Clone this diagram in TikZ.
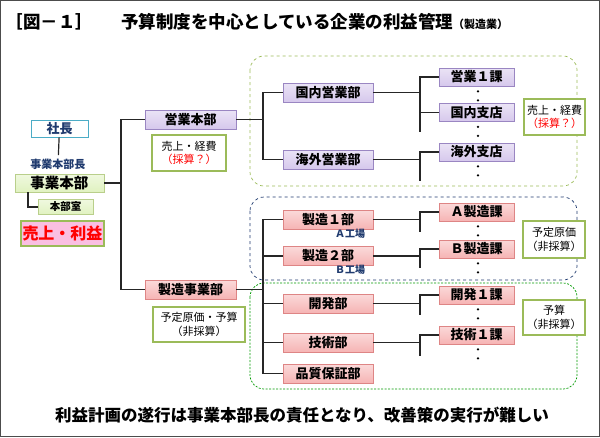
\documentclass[tikz,border=0pt]{standalone}
\usepackage{fontspec}
\setmainfont{Noto Sans CJK JP}
\usetikzlibrary{positioning}
\definecolor{pfill}{HTML}{D6C8EC}\definecolor{pdraw}{HTML}{9A86C2}
\definecolor{rfill}{HTML}{F6B4B4}\definecolor{rdraw}{HTML}{DE8585}
\definecolor{gfill}{HTML}{E0F2C0}\definecolor{gdraw}{HTML}{9BBB59}
\definecolor{cdraw}{HTML}{4BACC6}\definecolor{navy}{HTML}{1F3A6E}
\begin{document}
\begin{tikzpicture}[x=1pt,y=-1pt,
 box/.style={draw,line width=0.8pt,inner sep=0,minimum height=19pt,font=\bfseries\fontsize{13}{14}\selectfont},
 pb/.style={box,draw=pdraw,top color=pfill!50!white,bottom color=pfill},
 rb/.style={box,draw=rdraw,top color=rfill!50!white,bottom color=rfill},
 gb/.style={box,draw=gdraw!70,top color=gfill!50!white,bottom color=gfill},
 note/.style={draw=gdraw,line width=1.8pt,fill=white,inner sep=0,align=center,font=\fontsize{11}{13.5}\selectfont},
 ln/.style={line width=1.2pt,black!85},
 reg/.style={rounded corners=14pt,dashed,line width=0.7pt}]
\useasboundingbox (0,0) rectangle (600,437);
\draw[black!70,line width=0.8pt] (0.5,0.5) rectangle (599.5,436.5);
\node[anchor=west,font=\bfseries\fontsize{17.5}{19}\selectfont] (title) at (2,22) {［図－１］\hspace{1.6em}予算制度を中心としている企業の利益管理{\fontsize{11}{12}\selectfont（製造業）}};
% regions
\draw[reg,draw=gdraw] (250,56) rectangle (577,186);
\draw[reg,draw=navy] (250,197) rectangle (577,280);
\draw[reg,draw=green!60!black,dash pattern=on 2pt off 1.5pt] (250,283) rectangle (577,389);
% left
\node[box,draw=cdraw,fill=white,minimum width=57pt,minimum height=17pt,font=\bfseries\fontsize{13}{14}\selectfont,text=navy] (pres) at (59.5,128.5) {社長};
\node[font=\bfseries\fontsize{11}{12}\selectfont,text=navy] (hl) at (58,164) {事業本部長};
\node[gb,minimum width=89pt,minimum height=18pt,font=\bfseries\fontsize{14.5}{15}\selectfont] (hq) at (59.5,183) {事業本部};
\node[gb,minimum width=55pt,minimum height=15pt,font=\bfseries\fontsize{10.5}{11}\selectfont] (hr) at (65.5,207) {本部室};
\node[note,fill=magenta!25,minimum width=83pt,minimum height=25pt,font=\bfseries\fontsize{16}{17}\selectfont,text=red] (pr) at (62.5,233.5) {売上・利益};
\draw[ln] (pres) -- (hl);
\draw[ln] (hq.south -| 28,0) |- (hr.west);
% level 2
\node[pb,minimum width=91pt] (sales) at (190.5,119.5) {営業本部};
\node[rb,minimum width=91pt] (mfg) at (190.5,289.5) {製造事業部};
\node[note,minimum width=74pt,minimum height=36pt] (n1) at (189,153) {売上・経費\\\textcolor{red}{（採算？）}};
\node[note,minimum width=92pt,minimum height=35pt] (n2) at (199,324.5) {予定原価・予算\\（非採算）};
\coordinate (b1) at (121,183);
\draw[ln] (hq.east) -- (b1);
\draw[ln] (b1) |- (sales.west);
\draw[ln] (b1) |- (mfg.west);
% level 3
\node[pb,minimum width=90pt] (dom) at (328,92.5) {国内営業部};
\node[pb,minimum width=90pt] (ovs) at (328,159.5) {海外営業部};
\node[rb,minimum width=90pt] (m1) at (328,219.5) {製造１部};
\node[rb,minimum width=90pt] (m2) at (328,256) {製造２部};
\node[rb,minimum width=90pt] (dev) at (328,303.5) {開発部};
\node[rb,minimum width=90pt] (tec) at (328,342.5) {技術部};
\node[rb,minimum width=90pt] (qa) at (328,373.5) {品質保証部};
\node[font=\bfseries\fontsize{10}{10}\selectfont,text=navy] (fa) at (350,234) {Ａ工場};
\node[font=\bfseries\fontsize{10}{10}\selectfont,text=navy] (fb) at (350,270) {Ｂ工場};
\coordinate (s2) at (263,119.5);
\draw[ln] (sales.east) -- (s2);
\draw[ln] (dom.west) -| (s2) |- (ovs.west);
\coordinate (m2b) at (263,289.5);
\draw[ln] (mfg.east) -- (m2b);
\draw[ln] (m1.west) -| (m2b) |- (qa.west);
\draw[ln] (m2.west -| m2b) -- (m2.west);
\draw[ln] (dev.west -| m2b) -- (dev.west);
\draw[ln] (tec.west -| m2b) -- (tec.west);
% level 4
\node[pb,minimum width=75pt,minimum height=18pt] (k1) at (476.5,77) {営業１課};
\node[pb,minimum width=75pt,minimum height=18pt] (k2) at (476.5,112.5) {国内支店};
\node[pb,minimum width=75pt,minimum height=18pt] (k3) at (476.5,152) {海外支店};
\node[rb,minimum width=75pt,minimum height=18pt] (k4) at (476.5,212) {Ａ製造課};
\node[rb,minimum width=75pt,minimum height=18pt] (k5) at (476.5,249) {Ｂ製造課};
\node[rb,minimum width=75pt,minimum height=18pt] (k6) at (476.5,295) {開発１課};
\node[rb,minimum width=75pt,minimum height=18pt] (k7) at (476.5,335) {技術１課};
\foreach \k/\p in {k1/dom,k3/ovs,k4/m1,k5/m2,k6/dev,k7/tec}{
 \coordinate (c\k) at (420,0 |- \p.east);
}
\draw[ln] (dom.east) -- (ck1); \draw[ln] (k1.west) -| (420,132); \draw[ln] (k2.west) -| (ck1);
\draw[ln] (ovs.east) -- (ck3); \draw[ln] (k3.west) -| (420,181);
\draw[ln] (m1.east) -- (ck4); \draw[ln] (k4.west) -| (420,232);
\draw[ln] (m2.east) -- (ck5); \draw[ln] (k5.west) -| (420,268);
\draw[ln] (dev.east) -- (ck6); \draw[ln] (k6.west) -| (420,315);
\draw[ln] (tec.east) -- (ck7); \draw[ln] (k7.west) -| (420,356);
\foreach \k in {k1,k2,k3,k4,k5,k6,k7}{
 \fill[black] ([shift={(1.5,5)}]\k.south) circle (1.3pt) ([shift={(1.5,14)}]\k.south) circle (1.3pt);
}
% notes right
\node[note,minimum width=61pt,minimum height=36pt] (n3) at (554.5,117) {売上・経費\\\textcolor{red}{（採算？）}};
\node[note,minimum width=62pt,minimum height=37pt] (n4) at (554,239.5) {予定原価\\（非採算）};
\node[note,minimum width=62pt,minimum height=35pt] (n5) at (554,317.5) {予算\\（非採算）};
\node[font=\bfseries\fontsize{16.5}{17}\selectfont] (foot) at (302,415) {利益計画の遂行は事業本部長の責任となり、改善策の実行が難しい};
\end{tikzpicture}
\end{document}
